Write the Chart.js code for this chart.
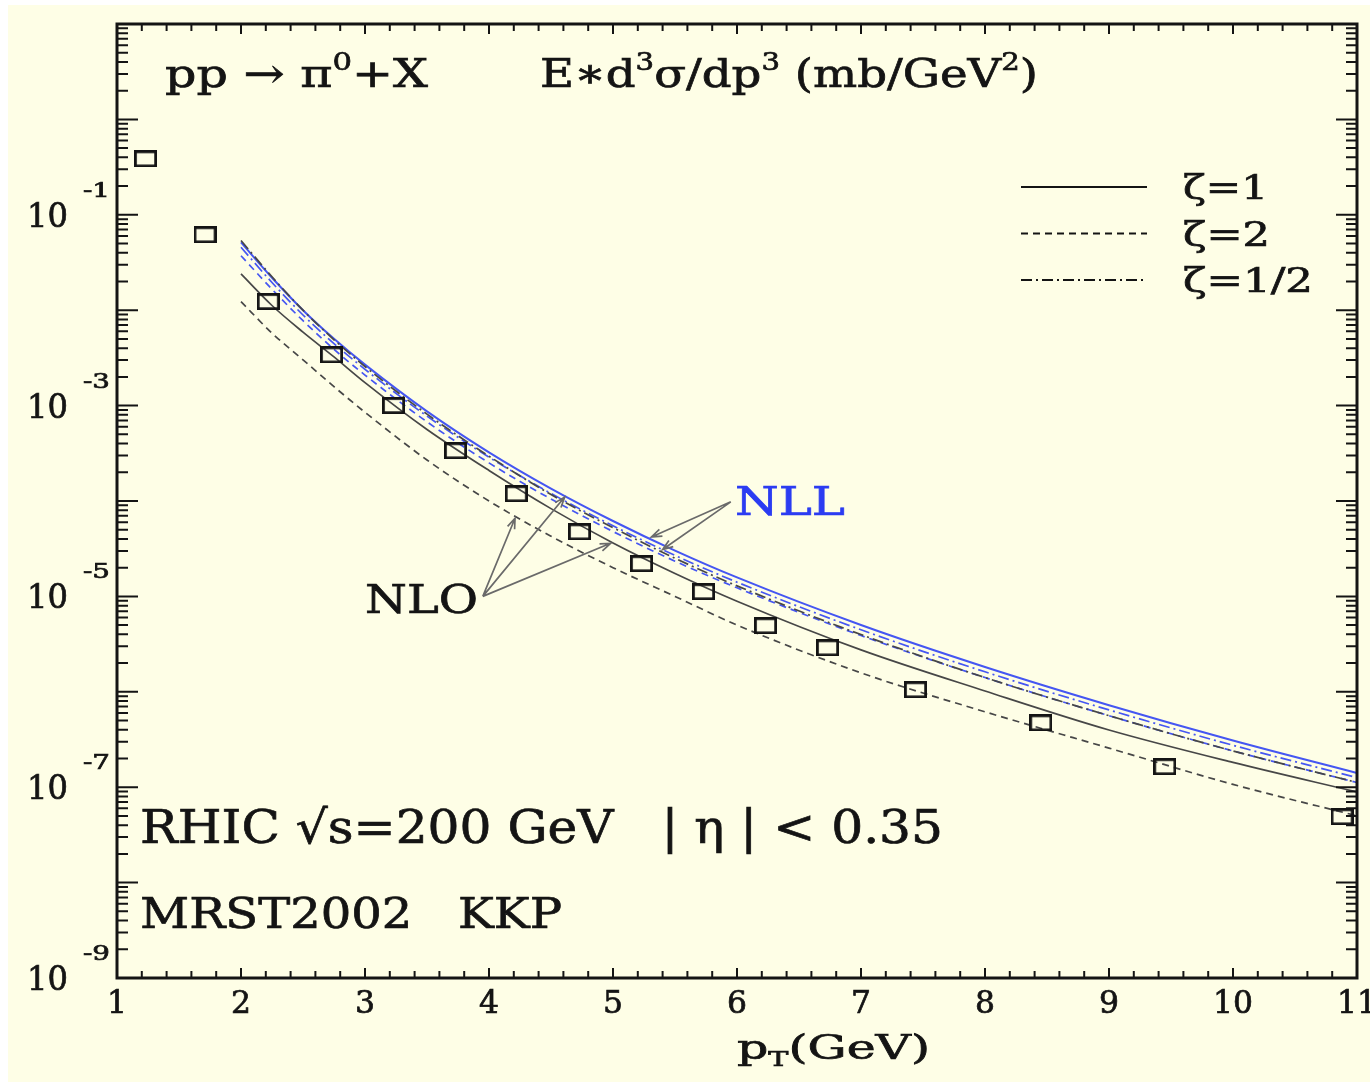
<!DOCTYPE html>
<html>
<head>
<meta charset="utf-8">
<title>pp -> pi0 + X at RHIC</title>
<script src="https://cdn.jsdelivr.net/npm/chart.js@4.4.1/dist/chart.umd.min.js"></script>
<style>
  html, body { margin: 0; padding: 0; background: #ffffff; }
  #wrap { position: absolute; left: 8px; top: 5px; width: 1362px; height: 1077px; background: #fefee6; }
</style>
</head>
<body>
<div id="wrap"><canvas id="chart" width="1362" height="1077"></canvas></div>
<script>
// measured pi0 cross section (open squares)
const ptData = [1.23, 1.71, 2.22, 2.73, 3.23, 3.73, 4.22, 4.73, 5.23, 5.73, 6.23, 6.73, 7.44, 8.45, 9.45, 10.88];
const sigmaData = [0.386, 6.17e-2, 1.23e-2, 3.4e-3, 1.0e-3, 3.36e-4, 1.19e-4, 4.75e-5, 2.2e-5, 1.12e-5, 4.92e-6, 2.89e-6, 1.05e-6, 4.73e-7, 1.64e-7, 4.9e-8];

const ptCurve = [2, 2.25, 2.5, 2.75, 3, 3.5, 4, 4.5, 5, 5.5, 6, 7, 8, 9, 10, 11];
const nllZeta1 = [5.13e-2, 2.19e-2, 1.00e-2, 5.01e-3, 2.69e-3, 8.71e-4, 3.24e-4, 1.35e-4, 6.17e-5, 3.02e-5, 1.58e-5, 5.01e-6, 1.82e-6, 7.24e-7, 3.09e-7, 1.41e-7];
const nllZetaHalf = [4.57e-2, 1.95e-2, 8.91e-3, 4.47e-3, 2.40e-3, 7.76e-4, 2.88e-4, 1.20e-4, 5.50e-5, 2.69e-5, 1.41e-5, 4.47e-6, 1.62e-6, 6.46e-7, 2.75e-7, 1.26e-7];
const nllZeta2 = [3.72e-2, 1.66e-2, 7.76e-3, 3.89e-3, 2.09e-3, 6.76e-4, 2.51e-4, 1.05e-4, 4.79e-5, 2.34e-5, 1.23e-5, 3.89e-6, 1.41e-6, 5.62e-7, 2.40e-7, 1.12e-7];
const nloZetaHalf = [5.37e-2, 2.24e-2, 1.00e-2, 4.90e-3, 2.57e-3, 8.13e-4, 2.95e-4, 1.17e-4, 5.25e-5, 2.51e-5, 1.29e-5, 3.98e-6, 1.41e-6, 5.62e-7, 2.40e-7, 1.12e-7];
const nloZeta1 = [2.40e-2, 1.12e-2, 5.89e-3, 3.24e-3, 1.74e-3, 5.62e-4, 2.09e-4, 8.32e-5, 3.63e-5, 1.74e-5, 8.91e-6, 2.75e-6, 1.02e-6, 3.98e-7, 1.82e-7, 8.91e-8];
const nloZeta2 = [1.23e-2, 5.75e-3, 3.02e-3, 1.58e-3, 8.51e-4, 2.69e-4, 1.00e-4, 4.27e-5, 2.00e-5, 1.00e-5, 5.01e-6, 1.58e-6, 6.17e-7, 2.57e-7, 1.07e-7, 5.01e-8];

// axis labels
const xTickLabels = ['1', '2', '3', '4', '5', '6', '7', '8', '9', '10', '11'];
const yLabelExps = [-1, -3, -5, -7, -9];

// annotation arrows (data coordinates: [pT, sigma])
const nloArrowFrom = [3.95, 1.0e-5];
const nloArrowTo = [[4.21, 6.6e-5], [4.61, 1.1e-4], [4.98, 3.6e-5]];
const nllArrowFrom = [5.95, 9.8e-5];
const nllArrowTo = [[5.31, 4.2e-5], [5.40, 3.1e-5]];

const FONT = '"DejaVu Serif", "Liberation Serif", serif';
const INK = '#141414';
const GRAY = '#474747';
const BLUE = '#4556f2';
const DASH = [7, 5];
const DASHDOT = [11, 4, 2, 4];

const toXY = (xs, ys) => xs.map((v, i) => ({ x: v, y: ys[i] }));

// open rectangle marker
const box = document.createElement('canvas');
box.width = 23; box.height = 17;
const bctx = box.getContext('2d');
bctx.lineWidth = 2.8;
bctx.strokeStyle = INK;
bctx.strokeRect(1.4, 1.4, 20.2, 14.2);

// text with superscripts / subscripts, fitted to a width
function drawRich(ctx, parts, x, y, size, width, color, align) {
    ctx.save();
    ctx.fillStyle = color || INK;
    ctx.strokeStyle = color || INK;
    ctx.lineWidth = 0.7;
    ctx.textAlign = 'left';
    ctx.textBaseline = 'alphabetic';
    const fontOf = m => (m ? Math.round(size * 0.62) : size) + 'px ' + FONT;
    let w = 0;
    parts.forEach(([t, m]) => { ctx.font = fontOf(m); w += ctx.measureText(t).width; });
    const sx = width ? width / w : 1;
    const total = w * sx;
    ctx.translate(align === 'center' ? x - total / 2 : x, y);
    ctx.scale(sx, 1);
    let cx = 0;
    parts.forEach(([t, m]) => {
        ctx.font = fontOf(m);
        const dy = m === 1 ? -size * 0.42 : (m === -1 ? size * 0.22 : 0);
        ctx.fillText(t, cx, dy);
        ctx.strokeText(t, cx, dy);
        cx += ctx.measureText(t).width;
    });
    ctx.restore();
}

function arrow(ctx, x0, y0, x1, y1) {
    const ang = Math.atan2(y1 - y0, x1 - x0);
    const h = 11;
    ctx.moveTo(x0, y0); ctx.lineTo(x1, y1);
    ctx.moveTo(x1 - h * Math.cos(ang - 0.35), y1 - h * Math.sin(ang - 0.35));
    ctx.lineTo(x1, y1);
    ctx.lineTo(x1 - h * Math.cos(ang + 0.35), y1 - h * Math.sin(ang + 0.35));
}

const decorations = {
    id: 'decorations',
    afterDatasetsDraw(c) {
        const { ctx, chartArea: a, scales: { x, y } } = c;
        ctx.save();

        // inward ticks on all four sides
        ctx.strokeStyle = INK;
        ctx.lineWidth = 2;
        ctx.beginPath();
        for (let d = -9; d <= 0; d++) {
            for (let m = 1; m <= 9; m++) {
                const py = y.getPixelForValue(m * Math.pow(10, d));
                const len = m === 1 ? 21 : 11;
                ctx.moveTo(a.left, py); ctx.lineTo(a.left + len, py);
                ctx.moveTo(a.right, py); ctx.lineTo(a.right - len, py);
            }
        }
        for (let i = 0; i <= 50; i++) {
            const px = x.getPixelForValue(1 + i * 0.2);
            const len = i % 5 === 0 ? 10 : 7;
            ctx.moveTo(px, a.bottom); ctx.lineTo(px, a.bottom - len);
            ctx.moveTo(px, a.top); ctx.lineTo(px, a.top + len);
        }
        ctx.stroke();

        // frame
        ctx.lineWidth = 3;
        ctx.strokeRect(a.left, a.top, a.width, a.height);

        // x tick labels from the scale's own ticks
        x.ticks.forEach(t => {
            const lbl = xTickLabels[t.value - 1];
            if (lbl === undefined) return;
            drawRich(ctx, [[lbl, 0]], x.getPixelForValue(t.value), a.bottom + 35, 31, lbl.length * 20, INK, 'center');
        });

        // y decade labels 10^n
        yLabelExps.forEach(e => {
            const py = y.getPixelForValue(Math.pow(10, e));
            drawRich(ctx, [['10', 0]], a.left - 90, py + 12, 33, 41);
            drawRich(ctx, [[String(e), 0]], a.left - 34, py - 18, 20, 27);
        });

        // x title
        drawRich(ctx, [['p', 0], ['T', -1], ['(GeV)', 0]], a.left + 620, a.bottom + 81, 34, 193);

        // texts inside the frame
        drawRich(ctx, [['pp ', 0], ['\u2192', 0], [' \u03c0', 0], ['0', 1], ['+X', 0]], a.left + 48, a.top + 63, 40, 263);
        drawRich(ctx, [['E\u2217d', 0], ['3', 1], ['\u03c3/dp', 0], ['3', 1], [' (mb/GeV', 0], ['2', 1], [')', 0]], a.left + 423, a.top + 63, 40, 498);
        drawRich(ctx, [['RHIC \u221as=200 GeV   | \u03b7 | < 0.35', 0]], a.left + 23, a.top + 819, 46, 803);
        drawRich(ctx, [['MRST2002   KKP', 0]], a.left + 23, a.top + 904, 42, 422);
        drawRich(ctx, [['NLO', 0]], a.left + 248, a.top + 589, 40, 113);
        drawRich(ctx, [['NLL', 0]], a.left + 618, a.top + 491, 40, 110, '#2b3cf2');

        // legend
        const legendRows = [
            { label: '\u03b6=1', dash: [], w: 85 },
            { label: '\u03b6=2', dash: DASH, w: 87 },
            { label: '\u03b6=1/2', dash: DASHDOT, w: 130 }
        ];
        legendRows.forEach((r, i) => {
            const ly = a.top + 163 + i * 46.5;
            ctx.beginPath();
            ctx.setLineDash(r.dash);
            ctx.lineWidth = 2;
            ctx.strokeStyle = INK;
            ctx.moveTo(a.left + 904, ly); ctx.lineTo(a.left + 1030, ly);
            ctx.stroke();
            ctx.setLineDash([]);
            drawRich(ctx, [[r.label, 0]], a.left + 1066, ly + 12, 33, r.w);
        });

        // NLO / NLL arrows
        ctx.strokeStyle = '#6a6a6a';
        ctx.lineWidth = 1.7;
        ctx.beginPath();
        const fx = x.getPixelForValue(nloArrowFrom[0]), fy = y.getPixelForValue(nloArrowFrom[1]);
        nloArrowTo.forEach(p => arrow(ctx, fx, fy, x.getPixelForValue(p[0]), y.getPixelForValue(p[1])));
        const gx = x.getPixelForValue(nllArrowFrom[0]), gy = y.getPixelForValue(nllArrowFrom[1]);
        nllArrowTo.forEach(p => arrow(ctx, gx, gy, x.getPixelForValue(p[0]), y.getPixelForValue(p[1])));
        ctx.stroke();

        ctx.restore();
    }
};

const curve = (label, ys, color, dash, width) => ({
    label: label,
    data: toXY(ptCurve, ys),
    borderColor: color,
    borderWidth: width || 1.7,
    borderDash: dash,
    pointRadius: 0,
    fill: false,
    cubicInterpolationMode: 'monotone'
});

new Chart(document.getElementById('chart'), {
    type: 'line',
    data: {
        datasets: [
            {
                label: 'data',
                data: toXY(ptData, sigmaData),
                showLine: false,
                pointStyle: box,
                pointRadius: 8,
                borderColor: INK
            },
            curve('NLO \u03b6=2', nloZeta2, GRAY, DASH),
            curve('NLO \u03b6=1', nloZeta1, GRAY, []),
            curve('NLO \u03b6=1/2', nloZetaHalf, GRAY, DASHDOT),
            curve('NLL \u03b6=2', nllZeta2, BLUE, DASH),
            curve('NLL \u03b6=1/2', nllZetaHalf, BLUE, DASHDOT),
            curve('NLL \u03b6=1', nllZeta1, BLUE, [], 2)
        ]
    },
    options: {
        responsive: false,
        animation: false,
        layout: { padding: { top: 19, right: 13, left: 0, bottom: 0 } },
        plugins: {
            legend: { display: false },
            tooltip: { enabled: false }
        },
        scales: {
            x: {
                type: 'linear',
                min: 1,
                max: 11,
                grid: { display: false, drawTicks: false },
                border: { display: false },
                ticks: { display: false, stepSize: 1 },
                afterFit: s => { s.height = 104; s.paddingLeft = 0; s.paddingRight = 0; }
            },
            y: {
                type: 'logarithmic',
                min: 1e-9,
                max: 10,
                grid: { display: false, drawTicks: false },
                border: { display: false },
                ticks: { display: false },
                afterFit: s => { s.width = 109; }
            }
        }
    },
    plugins: [decorations]
});
</script>
</body>
</html>
